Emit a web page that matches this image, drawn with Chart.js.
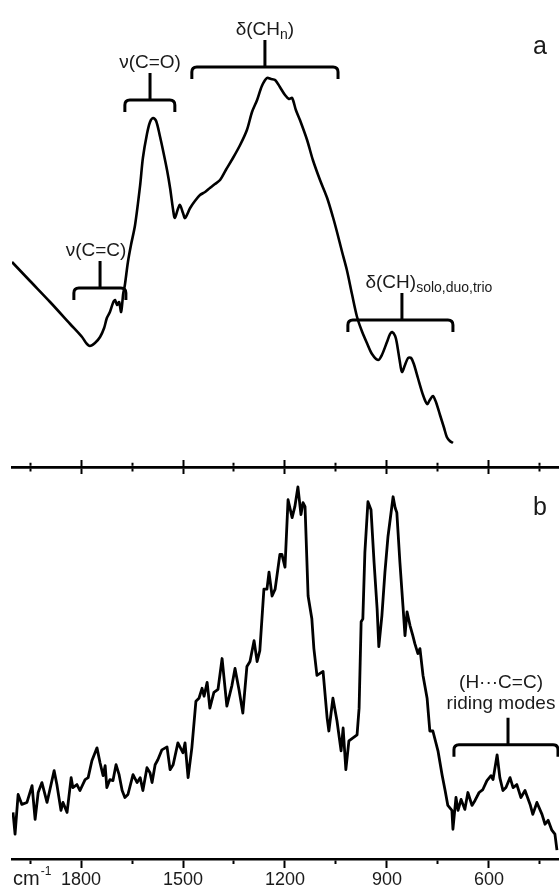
<!DOCTYPE html>
<html>
<head>
<meta charset="utf-8">
<script src="https://cdn.jsdelivr.net/npm/chart.js@4.4.1/dist/chart.umd.min.js"></script>
<style>
  html, body { margin: 0; padding: 0; background: #fff; }
  #wrap { position: relative; width: 559px; height: 892px; overflow: hidden; }
  canvas { position: absolute; left: 0; }
  #ca { top: 0; }
  #cb { top: 460px; }
</style>
</head>
<body>
<div id="wrap">
  <canvas id="ca" width="559" height="474"></canvas>
  <canvas id="cb" width="559" height="432"></canvas>
</div>
<script>
// ---------- data ----------
const axisMinWn = 394;
const axisMaxWn = 2003;
const tickWavenumbers = [1950, 1800, 1650, 1500, 1350, 1200, 1050, 900, 750, 600, 450];
const labelledTicks = [1800, 1500, 1200, 900, 600];

// panel a (smooth spectrum)
const waveA = [2003,1950,1891,1832,1797,1785,1774,1759,1744,1732,1724,1715,1706,1700,1694,1688,1682,1676,1671,1662,1653,1641,1626,1618,1606,1597,1588,1579,1568,1559,1547,1538,1529,1524,1515,1509,1500,1494,1479,1465,1450,1435,1421,1406,1391,1374,1353,1332,1312,1297,1282,1268,1253,1241,1229,1215,1200,1188,1179,1168,1156,1135,1118,1097,1076,1059,1047,1032,1018,1003,988,974,959,944,926,915,900,891,885,876,871,862,856,847,838,829,821,809,794,782,774,765,756,744,732,724,715,706];
const intensityA = [2.05,1.86,1.65,1.43,1.30,1.24,1.21,1.24,1.30,1.39,1.49,1.55,1.64,1.67,1.62,1.65,1.55,1.73,1.82,2.05,2.22,2.42,2.82,3.09,3.33,3.45,3.49,3.46,3.31,3.17,2.97,2.79,2.57,2.49,2.58,2.62,2.54,2.49,2.59,2.66,2.72,2.75,2.79,2.83,2.87,2.97,3.09,3.22,3.37,3.55,3.67,3.81,3.89,3.88,3.87,3.80,3.72,3.68,3.69,3.57,3.47,3.27,3.07,2.87,2.69,2.50,2.35,2.15,1.97,1.73,1.50,1.36,1.24,1.13,1.07,1.12,1.25,1.33,1.35,1.31,1.24,1.05,0.95,1.02,1.09,1.09,1.03,0.89,0.72,0.63,0.67,0.71,0.65,0.52,0.39,0.30,0.26,0.24];

// panel b (noisy spectrum)
const waveB = [2000,1994,1985,1974,1959,1944,1935,1926,1915,1900,1879,1871,1859,1853,1841,1829,1824,1812,1803,1788,1779,1768,1753,1744,1735,1729,1724,1715,1706,1697,1688,1679,1671,1662,1647,1635,1626,1618,1606,1597,1591,1582,1574,1562,1547,1538,1529,1515,1500,1494,1485,1474,1462,1453,1444,1438,1429,1421,1409,1397,1385,1371,1356,1347,1335,1324,1312,1303,1291,1282,1274,1262,1253,1247,1238,1229,1215,1209,1200,1191,1179,1171,1162,1153,1147,1141,1132,1121,1115,1106,1097,1088,1076,1071,1059,1047,1035,1029,1021,1012,1000,988,982,976,971,965,956,947,938,929,924,915,906,897,882,876,871,862,853,847,841,832,824,818,809,803,794,782,774,765,750,738,729,721,709,706,697,691,682,671,662,650,641,629,618,606,594,588,576,568,559,550,538,529,518,506,494,479,471,459,444,435,426,415,406,400];
const intensityB = [0.47,0.25,0.65,0.55,0.57,0.74,0.40,0.67,0.77,0.57,0.89,0.75,0.49,0.57,0.47,0.82,0.72,0.75,0.69,0.80,0.82,0.99,1.12,0.97,0.84,0.94,0.72,0.80,0.79,0.95,0.85,0.69,0.62,0.65,0.85,0.77,0.82,0.69,0.92,0.87,0.77,0.95,1.00,1.10,1.13,0.90,0.95,1.17,1.07,1.17,0.82,1.12,1.59,1.62,1.72,1.64,1.78,1.52,1.68,1.71,2.02,1.54,1.75,1.92,1.70,1.47,1.94,1.99,2.20,1.99,2.10,2.72,2.72,2.89,2.65,2.72,3.07,3.07,2.94,3.62,3.44,3.55,3.75,3.47,3.59,3.55,2.65,2.42,2.12,1.85,1.87,1.89,1.42,1.29,1.62,1.39,1.09,1.32,0.90,1.19,1.22,1.25,1.52,2.39,2.42,3.09,3.60,3.52,2.99,2.52,2.14,2.45,2.89,3.25,3.65,3.54,3.49,2.99,2.55,2.25,2.49,2.35,2.25,2.17,2.07,2.12,1.85,1.62,1.29,1.29,1.09,0.85,0.69,0.54,0.49,0.30,0.62,0.49,0.60,0.50,0.67,0.54,0.59,0.67,0.70,0.79,0.84,0.80,1.05,0.82,0.69,0.72,0.82,0.72,0.75,0.62,0.69,0.55,0.45,0.57,0.45,0.35,0.39,0.29,0.25,0.09];

// band assignments (wavenumber ranges and bracket height in intensity units)
const bandsA = [
  { text: 'ν(C=O)', sub: '', tail: '', from: 1671, to: 1524, stem: 1597, level: 3.67 },
  { text: 'δ(CH', sub: 'n', tail: ')', from: 1474, to: 1044, stem: 1259, level: 4.00 },
  { text: 'ν(C=C)', sub: '', tail: '', from: 1821, to: 1668, stem: 1744, level: 1.79 },
  { text: 'δ(CH)', sub: 'solo,duo,trio', tail: '', from: 1015, to: 706, stem: 856, level: 1.47 }
];
const bandsB = [
  { lines: ['(H\u00B7\u00B7\u00B7C=C)', 'riding modes'], from: 703, to: 397, stem: 544, level: 1.15 }
];
const panelLetters = ['a', 'b'];
const axisUnit = 'cm';
const axisUnitExp = '-1';

// ---------- style ----------
const INK = '#000';
const TEXT = '#1a1a1a';
const FAMILY = '"Liberation Sans", Arial, sans-serif';
const MAIN_FONT = '19px ' + FAMILY;
const SUB_FONT = '14px ' + FAMILY;
const labelShiftA = [0, 0, -4, 27];
const labelShiftB = [-7];

function isMajor(v) { return labelledTicks.includes(v); }
function setTicks(scale) { scale.ticks = tickWavenumbers.map(v => ({ value: v })); }

function drawBracket(ctx, xs, ys, b) {
  const x1 = xs.getPixelForValue(b.from);
  const x2 = xs.getPixelForValue(b.to);
  const xc = xs.getPixelForValue(b.stem);
  const y = ys.getPixelForValue(b.level);
  const hook = 12, stem = 27, r = 5;
  ctx.save();
  ctx.strokeStyle = INK;
  ctx.lineWidth = 3;
  ctx.lineJoin = 'round';
  ctx.beginPath();
  ctx.moveTo(x1, y + hook);
  ctx.lineTo(x1, y + r);
  ctx.quadraticCurveTo(x1, y, x1 + r, y);
  ctx.lineTo(x2 - r, y);
  ctx.quadraticCurveTo(x2, y, x2, y + r);
  ctx.lineTo(x2, y + hook);
  ctx.moveTo(xc, y);
  ctx.lineTo(xc, y - stem);
  ctx.stroke();
  ctx.restore();
  return { xc: xc, top: y - stem };
}

function drawLabel(ctx, b, x, baseline, shift) {
  ctx.save();
  ctx.fillStyle = TEXT;
  ctx.textAlign = 'left';
  ctx.textBaseline = 'alphabetic';
  ctx.font = MAIN_FONT;
  const w1 = ctx.measureText(b.text).width;
  const w3 = b.tail ? ctx.measureText(b.tail).width : 0;
  ctx.font = SUB_FONT;
  const w2 = b.sub ? ctx.measureText(b.sub).width : 0;
  const left = x - (w1 + w2 + w3) / 2 + shift;
  ctx.font = MAIN_FONT;
  ctx.fillText(b.text, left, baseline);
  if (b.sub) { ctx.font = SUB_FONT; ctx.fillText(b.sub, left + w1, baseline + 4); }
  if (b.tail) { ctx.font = MAIN_FONT; ctx.fillText(b.tail, left + w1 + w2, baseline); }
  ctx.restore();
}

const annotA = {
  id: 'annotA',
  afterDatasetsDraw(chart) {
    const ctx = chart.ctx, xs = chart.scales.x, ys = chart.scales.y;
    bandsA.forEach((b, i) => {
      const p = drawBracket(ctx, xs, ys, b);
      drawLabel(ctx, b, p.xc, p.top - 5, labelShiftA[i]);
    });
    ctx.save();
    ctx.fillStyle = TEXT;
    ctx.font = '25px ' + FAMILY;
    ctx.textAlign = 'left';
    ctx.fillText(panelLetters[0], chart.chartArea.right - 26, chart.chartArea.top + 54);
    ctx.restore();
  }
};

const annotB = {
  id: 'annotB',
  afterDatasetsDraw(chart) {
    const ctx = chart.ctx, xs = chart.scales.x, ys = chart.scales.y;
    bandsB.forEach((b, i) => {
      const p = drawBracket(ctx, xs, ys, b);
      ctx.save();
      ctx.fillStyle = TEXT;
      ctx.font = MAIN_FONT;
      ctx.textAlign = 'center';
      ctx.fillText(b.lines[1], p.xc + labelShiftB[i], p.top - 9);
      ctx.fillText(b.lines[0], p.xc + labelShiftB[i], p.top - 30);
      ctx.restore();
    });
    ctx.save();
    ctx.fillStyle = TEXT;
    ctx.font = '25px ' + FAMILY;
    ctx.textAlign = 'left';
    ctx.fillText(panelLetters[1], chart.chartArea.right - 26, chart.chartArea.top + 48);
    // axis unit
    const base = xs.top + 26;
    ctx.font = '20px ' + FAMILY;
    ctx.fillText(axisUnit, 13, base);
    const wcm = ctx.measureText(axisUnit).width;
    ctx.font = '12px ' + FAMILY;
    ctx.fillText(axisUnitExp, 13 + wcm + 1, base - 10);
    ctx.restore();
  }
};

function xAxis(position, tickLen, minorDash, showLabels) {
  return {
    type: 'linear',
    position: position,
    min: axisMinWn,
    max: axisMaxWn,
    reverse: true,
    afterBuildTicks: setTicks,
    border: { display: true, color: INK, width: 2.5 },
    grid: {
      display: true,
      drawOnChartArea: false,
      drawTicks: true,
      tickLength: tickLen,
      tickColor: INK,
      tickWidth: 2,
      tickBorderDash: (c) => (c.tick && isMajor(c.tick.value)) ? [] : minorDash
    },
    ticks: {
      display: showLabels,
      autoSkip: false,
      maxRotation: 0,
      padding: 3,
      color: TEXT,
      font: { family: FAMILY, size: 18, lineHeight: 1.0 },
      callback: (v) => isMajor(v) ? String(v) : ''
    }
  };
}

new Chart(document.getElementById('ca'), {
  type: 'line',
  data: {
    datasets: [{
      data: waveA.map((w, i) => ({ x: w, y: intensityA[i] })),
      borderColor: INK,
      borderWidth: 2.6,
      pointRadius: 0,
      tension: 0.3,
      fill: false
    }]
  },
  options: {
    responsive: false,
    animation: false,
    layout: { padding: { left: 12, right: 0, top: 0, bottom: 0 } },
    plugins: { legend: { display: false }, tooltip: { enabled: false } },
    scales: {
      x: xAxis('bottom', 7, [3, 40], false),
      y: { display: false, min: 0, max: 4.67 }
    }
  },
  plugins: [annotA]
});

new Chart(document.getElementById('cb'), {
  type: 'line',
  data: {
    datasets: [{
      data: waveB.map((w, i) => ({ x: w, y: intensityB[i] })),
      borderColor: INK,
      borderWidth: 2.8,
      borderJoinStyle: 'round',
      pointRadius: 0,
      tension: 0,
      fill: false,
      xAxisID: 'x'
    }]
  },
  options: {
    responsive: false,
    animation: false,
    layout: { padding: { left: 12, right: 0, top: 0, bottom: 0 } },
    plugins: { legend: { display: false }, tooltip: { enabled: false } },
    scales: {
      x: xAxis('bottom', 9, [3.5, 40], true),
      x2: xAxis('top', 7, [0, 2.75, 3, 40], false),
      y: { display: false, min: 0, max: 3.95 }
    }
  },
  plugins: [annotB]
});
</script>
</body>
</html>
